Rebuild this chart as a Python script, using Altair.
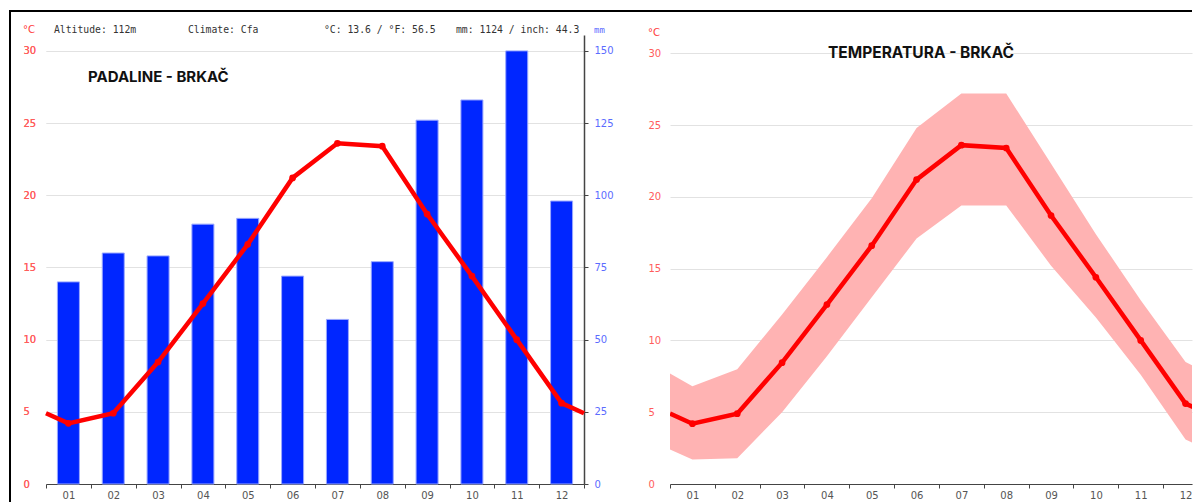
import altair as alt
import pandas as pd

# ---------------- data ----------------
months = [1, 2, 3, 4, 5, 6, 7, 8, 9, 10, 11, 12]
precip_mm = [70, 80, 79, 90, 92, 72, 57, 77, 126, 133, 150, 98]
temp_mean = [4.2, 4.9, 8.45, 12.5, 16.6, 21.2, 23.6, 23.4, 18.7, 14.4, 10.0, 5.6]
temp_max = [6.8, 8.0, 11.8, 15.8, 19.9, 24.8, 27.2, 27.2, 22.3, 17.4, 12.8, 8.5]
temp_min = [1.7, 1.8, 5.0, 8.9, 13.0, 17.1, 19.4, 19.4, 15.2, 11.6, 7.6, 3.1]
# values at the year boundary (plot edges)
edge_pos = [0.5, 12.5]
edge_mean = 4.9
edge_max = 7.7
edge_min = 2.4

header_texts = ["Altitude: 112m", "Climate: Cfa", "°C: 13.6 / °F: 56.5", "mm: 1124 / inch: 44.3"]
left_title = "PADALINE - BRKAČ"
right_title = "TEMPERATURA - BRKAČ"
temp_ticks = [0, 5, 10, 15, 20, 25, 30]
precip_ticks = [0, 25, 50, 75, 100, 125, 150]

month_df = pd.DataFrame({"month": months, "precip": precip_mm, "temp": temp_mean,
                         "tmax": temp_max, "tmin": temp_min})
line_df = pd.DataFrame({
    "month": [edge_pos[0]] + months + [edge_pos[1]],
    "temp": [edge_mean] + temp_mean + [edge_mean],
    "tmax": [edge_max] + temp_max + [edge_max],
    "tmin": [edge_min] + temp_min + [edge_min],
})

# ---------------- styling ----------------
RED = "#ff0000"
LABEL_RED = "#ff5c5c"
LABEL_BLUE = "#5b6cff"
BAR_BLUE = "#0026ff"
BAND = "#ffb3b3"
GRID = "#e2e2e2"
AXIS = "#444444"
FONT = "DejaVu Sans"
MONO = "DejaVu Sans Mono"
TITLE_FONT = "Inter"

PER_MONTH = 44.83
LW, H = 538, 449
SP = 86
RW = 522
R_END = 0.5 + RW / PER_MONTH
boundaries = [m - 0.5 for m in months] + [12.5]

label_expr = ("datum.value < 12 ? (datum.value < 9 ? '0' : '') + "
              "format(datum.value + 0.5, 'd') : ''")


def x_axis(values):
    return alt.Axis(values=values, title=None, grid=False, labelExpr=label_expr,
                    labelOffset=PER_MONTH / 2, labelFlush=False, labelOverlap=False,
                    tickSize=4, tickColor=AXIS, domainColor=AXIS, labelPadding=2,
                    labelColor="#555555", labelFont=FONT, labelFontSize=10)


def temp_axis(pad):
    return alt.Axis(values=temp_ticks, title=None, orient="left", grid=True, gridColor=GRID,
                    domain=False, ticks=False, tickSize=0, labelPadding=pad,
                    labelAlign="left", labelColor=LABEL_RED, labelFont=FONT, labelFontSize=10)


one = alt.Data(values=[{}])

# ---------------- left chart: precipitation + temperature ----------------
lx_scale = alt.Scale(domain=[0.5, 12.5], nice=False, zero=False, padding=0)
lx = alt.X("month:Q", scale=lx_scale, axis=x_axis(boundaries))

bars = alt.Chart(month_df).mark_bar(size=22, color=BAR_BLUE, stroke="#9aa8ff",
                                    strokeWidth=1).encode(
    x=lx,
    y=alt.Y("precip:Q", scale=alt.Scale(domain=[0, 155.5], nice=False),
            axis=alt.Axis(values=precip_ticks, title=None, orient="right", grid=False,
                          domainColor=AXIS, domainWidth=1.5, tickColor=AXIS, tickSize=4,
                          labelPadding=6, labelAlign="left", labelColor=LABEL_BLUE,
                          labelFont=FONT, labelFontSize=10)),
)

lt_y = alt.Y("temp:Q", scale=alt.Scale(domain=[0, 31.1], nice=False), axis=temp_axis(23))
l_line = alt.Chart(line_df).mark_line(color=RED, strokeWidth=4.5).encode(x=lx, y=lt_y)
l_pts = alt.Chart(month_df).mark_circle(color=RED, size=45, opacity=1).encode(x=lx, y=lt_y)

l_texts = [
    alt.Chart(one).mark_text(text="°C", x=-23, y=-5, align="left", baseline="middle",
                             font=FONT, fontSize=10, color="#ff3b3b"),
    alt.Chart(one).mark_text(text="mm", x=LW + 10, y=-5, align="left", baseline="middle",
                             font=MONO, fontSize=9, color=LABEL_BLUE),
    alt.Chart(one).mark_text(text=left_title, x=42, y=42, align="left", baseline="middle",
                             font=TITLE_FONT, fontSize=15, fontWeight="bold", color="#111111"),
]
for txt, xp in zip(header_texts, [8, 142, 278, 410]):
    l_texts.append(alt.Chart(one).mark_text(text=txt, x=xp, y=-5, align="left",
                                            baseline="middle", font=MONO, fontSize=9.75,
                                            color="#333333"))

frame_left = alt.Chart(one).mark_rule(color="black", strokeWidth=2).encode(
    x=alt.value(-36), y=alt.value(-24), y2=alt.value(470))
frame_top = alt.Chart(one).mark_rule(color="black", strokeWidth=2).encode(
    x=alt.value(-37), x2=alt.value(LW + SP + RW), y=alt.value(-24))

left = alt.layer(bars, l_line, l_pts, *l_texts, frame_left, frame_top).resolve_scale(
    y="independent").properties(width=LW, height=H)

# ---------------- right chart: temperature range ----------------
rx_scale = alt.Scale(domain=[0.5, R_END], nice=False, zero=False, padding=0)
rx = alt.X("month:Q", scale=rx_scale, axis=x_axis(boundaries[:-1]))
ry_scale = alt.Scale(domain=[0, 31.27], nice=False)

band = alt.Chart(line_df).mark_area(color=BAND, opacity=1, clip=True).encode(
    x=rx, y=alt.Y("tmin:Q", scale=ry_scale, axis=temp_axis(22)), y2="tmax:Q")
r_line = alt.Chart(line_df).mark_line(color=RED, strokeWidth=4.5, clip=True).encode(
    x=rx, y=alt.Y("temp:Q", scale=ry_scale, axis=temp_axis(22)))
r_pts = alt.Chart(month_df).mark_circle(color=RED, size=45, opacity=1, clip=True).encode(
    x=rx, y=alt.Y("temp:Q", scale=ry_scale, axis=temp_axis(22)))
r_texts = [
    alt.Chart(one).mark_text(text="°C", x=-22, y=-2, align="left", baseline="middle",
                             font=FONT, fontSize=10, color="#ff3b3b"),
    alt.Chart(one).mark_text(text=right_title, x=251, y=18, align="center",
                             baseline="middle", font=TITLE_FONT, fontSize=15.5,
                             fontWeight="bold", color="#111111"),
]

right = alt.layer(band, r_line, r_pts, *r_texts).properties(width=RW, height=H)

chart = alt.hconcat(left, right, spacing=SP, bounds="flush").properties(
    padding={"left": 0, "top": 2, "right": 0, "bottom": 0},
    background="white",
).configure_view(strokeWidth=0, strokeOpacity=0)

chart.save("out.html", embed_options={"renderer": "svg", "actions": False})
